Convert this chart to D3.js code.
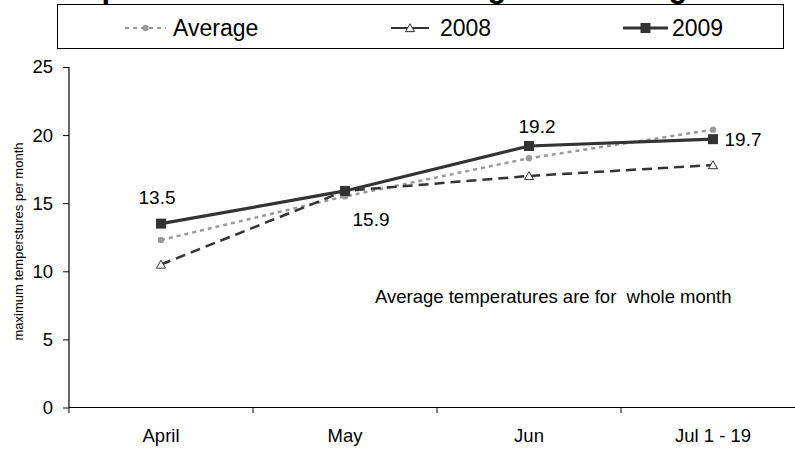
<!DOCTYPE html>
<html>
<head>
<meta charset="utf-8">
<script src="https://cdn.jsdelivr.net/npm/d3@7"></script>
<style>
  html, body { margin: 0; padding: 0; background: #fff; }
  svg { display: block; font-family: "Liberation Sans", Arial, sans-serif; }
</style>
</head>
<body>
<svg id="chart" width="795" height="449"></svg>
<script>
// Monthly maximum temperatures
const categories = ["April", "May", "Jun", "Jul 1 - 19"];
const avgValues = [12.3, 15.5, 18.3, 20.4];
const values2008 = [10.5, 15.9, 17.0, 17.8];
const values2009 = [13.5, 15.9, 19.2, 19.7];
const yTicks = [0, 5, 10, 15, 20, 25];
const seriesNames = ["Average", "2008", "2009"];
const titleText = "Temperatures 2009 and 2008 against average";
const yAxisTitle = "maximum temperstures per month";
const noteText = "Average temperatures are for  whole month";

// Label offsets (px) from each 2009 point
const labelOffsets = [[-4, -20], [26, 35], [8, -13], [30, 7]];

const svg = d3.select("#chart");
const plotLeft = 69, plotRight = 805, plotTop = 67, plotBottom = 407.5;

const x = d3.scaleBand().domain(categories).range([plotLeft, plotRight]);
const y = d3.scaleLinear().domain([0, 25]).range([plotBottom, plotTop]);
const cx = c => x(c) + x.bandwidth() / 2;

// Title (mostly behind the legend box)
svg.append("text")
  .attr("x", 40).attr("y", -3.5)
  .attr("font-size", 31).attr("font-weight", "bold")
  .text(titleText);

// Legend
const legend = svg.append("g");
legend.append("rect")
  .attr("x", 57.5).attr("y", 4.5).attr("width", 726).attr("height", 44)
  .attr("fill", "#fff").attr("stroke", "#000").attr("stroke-width", 1);

const styles = {
  "Average": { color: "#9a9a9a", width: 2.5, dash: "4,4" },
  "2008": { color: "#333", width: 2.5, dash: "10,6" },
  "2009": { color: "#333", width: 3.2, dash: null }
};

function drawMarker(g, name, px, py) {
  if (name === "Average") {
    g.append("circle").attr("cx", px).attr("cy", py).attr("r", 3.2)
      .attr("fill", "#9a9a9a");
  } else if (name === "2008") {
    g.append("path")
      .attr("d", d3.symbol(d3.symbolTriangle, 36)())
      .attr("transform", `translate(${px},${py + 1})`)
      .attr("fill", "#fff").attr("stroke", "#333").attr("stroke-width", 1);
  } else {
    g.append("rect").attr("x", px - 5).attr("y", py - 5)
      .attr("width", 10).attr("height", 10).attr("fill", "#333");
  }
}

const legendItems = [
  { name: "Average", x1: 125, x2: 166, tx: 173, dash: "4,4" },
  { name: "2008", x1: 391, x2: 429, tx: 440, dash: null },
  { name: "2009", x1: 623, x2: 668, tx: 672, dash: null }
];
legendItems.forEach(it => {
  const st = styles[it.name];
  legend.append("line")
    .attr("x1", it.x1).attr("x2", it.x2).attr("y1", 28).attr("y2", 28)
    .attr("stroke", st.color).attr("stroke-width", it.name === "2009" ? 3.2 : 2)
    .attr("stroke-dasharray", it.dash);
  drawMarker(legend, it.name, (it.x1 + it.x2) / 2, 28);
  legend.append("text")
    .attr("x", it.tx).attr("y", 35.7)
    .attr("font-size", 23).attr("fill", "#000")
    .text(it.name);
});

// Axes
const yAxis = d3.axisLeft(y).tickValues(yTicks).tickSize(6).tickPadding(10);
const yg = svg.append("g").attr("transform", `translate(${plotLeft},0)`).call(yAxis);
yg.select(".domain").remove();
yg.selectAll(".tick line").attr("stroke", "#000");
yg.selectAll(".tick text").attr("font-size", 18.5).attr("fill", "#000")
  .attr("font-family", "Liberation Sans, Arial, sans-serif");

const xAxis = d3.axisBottom(x).tickSize(0).tickPadding(21);
const xg = svg.append("g").attr("transform", `translate(0,${plotBottom})`).call(xAxis);
xg.select(".domain").remove();
xg.selectAll(".tick text").attr("font-size", 18.5).attr("fill", "#000")
  .attr("font-family", "Liberation Sans, Arial, sans-serif");

// Category boundary ticks
const bounds = categories.map(c => x(c)).concat([x.range()[1]]);
svg.append("g").selectAll("line").data(bounds).join("line")
  .attr("x1", d => d).attr("x2", d => d)
  .attr("y1", plotBottom).attr("y2", plotBottom + 5.5)
  .attr("stroke", "#000").attr("stroke-width", 1);

svg.append("line")
  .attr("x1", plotLeft).attr("x2", plotLeft).attr("y1", y(25)).attr("y2", y(0))
  .attr("stroke", "#000").attr("stroke-width", 1.2);
svg.append("line")
  .attr("x1", plotLeft).attr("x2", plotRight).attr("y1", y(0)).attr("y2", y(0))
  .attr("stroke", "#000").attr("stroke-width", 1.2);

// Y axis title
svg.append("text")
  .attr("transform", `translate(23,241.5) rotate(-90)`)
  .attr("text-anchor", "middle").attr("font-size", 13).attr("fill", "#000")
  .text(yAxisTitle);

// Series
const series = [
  { name: "Average", values: avgValues },
  { name: "2008", values: values2008 },
  { name: "2009", values: values2009 }
];
const line = d3.line().x(d => cx(d.c)).y(d => y(d.v));

series.forEach(s => {
  const st = styles[s.name];
  const pts = categories.map((c, i) => ({ c, v: s.values[i] }));
  const g = svg.append("g");
  g.append("path").datum(pts).attr("d", line)
    .attr("fill", "none").attr("stroke", st.color)
    .attr("stroke-width", st.width).attr("stroke-dasharray", st.dash);
  pts.forEach(p => drawMarker(g, s.name, cx(p.c), y(p.v)));
});

// 2009 value labels
svg.append("g").selectAll("text").data(categories).join("text")
  .attr("x", (c, i) => cx(c) + labelOffsets[i][0])
  .attr("y", (c, i) => y(values2009[i]) + labelOffsets[i][1])
  .attr("text-anchor", "middle").attr("font-size", 19).attr("fill", "#000")
  .text((c, i) => values2009[i].toFixed(1));

// Note
svg.append("text")
  .attr("x", 375).attr("y", 303)
  .attr("font-size", 18.5).attr("fill", "#000")
  .style("white-space", "pre")
  .text(noteText);
</script>
</body>
</html>
